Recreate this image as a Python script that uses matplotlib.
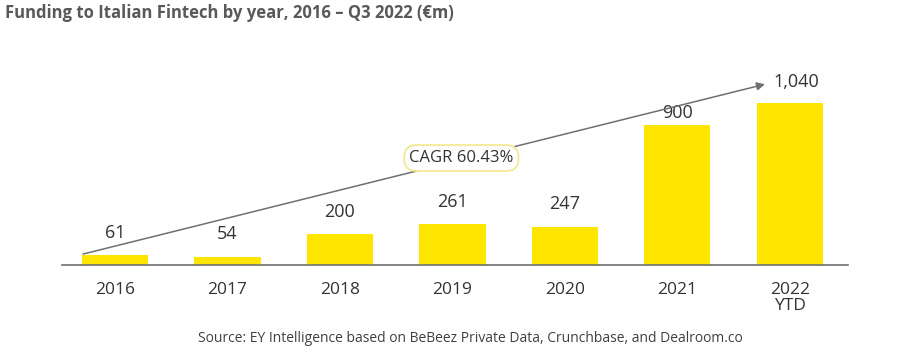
import matplotlib
matplotlib.use("Agg")
import matplotlib.pyplot as plt

years = ["2016", "2017", "2018", "2019", "2020", "2021", "2022\nYTD"]
funding = [61, 54, 200, 261, 247, 900, 1040]
value_labels = ["61", "54", "200", "261", "247", "900", ""]

plt.rcParams['font.family'] = ['Open Sans', 'DejaVu Sans']

fig = plt.figure(figsize=(8.99, 3.59), dpi=100)
ax = fig.add_axes([0.069, 0.262, 0.874, 0.5627])

x = list(range(len(years)))
bars = ax.bar(x, funding, width=0.59, color="#FFE600", zorder=2)

# value labels above bars
for xi, val, lab in zip(x, funding, value_labels):
    if not lab:
        continue
    off = 9 if val > 800 else 16
    ax.annotate(lab, (xi, val), xytext=(0, off), textcoords="offset points",
                ha="center", va="center", fontsize=13, color="#333333")

# CAGR arrow
ax.annotate("", xy=(5.78, 1163), xytext=(-0.284, 70),
            arrowprops=dict(arrowstyle="-|>", color="#707070", lw=1.1,
                            mutation_scale=12, shrinkA=0, shrinkB=0))
ax.text(6.06, 1180, "1,040", ha="center", va="center", fontsize=13, color="#333333")
ax.text(3.08, 688, "CAGR 60.43%", ha="center", va="center", fontsize=12,
        color="#333333",
        bbox=dict(boxstyle="round,pad=0.3,rounding_size=0.75", fc="white",
                  ec="#F2E88A", lw=1.2))

ax.set_xlim(-0.471, 6.516)
ax.set_ylim(0, 1300)
for s in ["top", "right", "left"]:
    ax.spines[s].set_visible(False)
ax.spines["bottom"].set_color("#707070")
ax.spines["bottom"].set_linewidth(1.2)
ax.set_yticks([])
ax.set_xticks(x)
ax.set_xticklabels(years, fontsize=12.5, color="#333333", linespacing=1.05)
ax.tick_params(axis="x", length=0, pad=12)

fig.text(0.006, 0.963, "Funding to Italian Fintech by year, 2016 \u2013 Q3 2022 (\u20acm)",
         ha="left", va="center", fontsize=12, fontweight="bold", color="#595959")
fig.text(0.523, 0.058, "Source: EY Intelligence based on BeBeez Private Data, Crunchbase, and Dealroom.co",
         ha="center", va="center", fontsize=10, color="#404040")

fig.savefig("out.png", dpi=100)
